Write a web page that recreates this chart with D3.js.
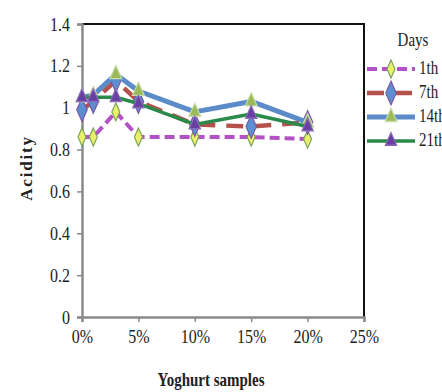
<!DOCTYPE html>
<html>
<head>
<meta charset="utf-8">
<script src="https://cdn.jsdelivr.net/npm/d3@7"></script>
<style>
  body { margin: 0; background: #fff; }
  text { font-family: "Liberation Serif", "Times New Roman", serif; fill: #222; }
</style>
</head>
<body>
<div id="chart"></div>
<script>
    // Yoghurt sample concentration (%) and acidity per storage day
    const samples = [0, 1, 3, 5, 10, 15, 20];
    const day1 = [0.86, 0.86, 0.98, 0.86, 0.86, 0.86, 0.85];
    const day7 = [0.99, 1.03, 1.13, 1.03, 0.92, 0.91, 0.93];
    const day14 = [1.05, 1.06, 1.16, 1.08, 0.98, 1.03, 0.93];
    const day21 = [1.05, 1.05, 1.05, 1.02, 0.92, 0.97, 0.91];
    const seriesNames = ["1th", "7th", "14th", "21th"];
    const xTicks = [0, 5, 10, 15, 20, 25];
    const yTicks = [0, 0.2, 0.4, 0.6, 0.8, 1, 1.2, 1.4];

    const W = 442, H = 392;
    const margin = { top: 24, right: 78, bottom: 75, left: 82 };
    const width = W - margin.left - margin.right;
    const height = H - margin.top - margin.bottom;

    const svg = d3.select("#chart")
      .append("svg")
        .attr("width", W)
        .attr("height", H);

    const g = svg.append("g")
        .attr("transform", `translate(${margin.left},${margin.top})`);

    const x = d3.scaleLinear().domain([0, 25]).range([0, width]);
    const y = d3.scaleLinear().domain([0, 1.4]).range([height, 0]);

    // top and right frame
    g.append("path")
      .attr("d", `M0,0H${width}V${height}`)
      .attr("fill", "none")
      .attr("stroke", "#111")
      .attr("stroke-width", 2);

    // Y axis
    const yAxis = g.append("g")
      .call(d3.axisLeft(y).tickValues(yTicks).tickSize(5).tickPadding(7).tickFormat(d => d3.format("")(+d.toFixed(1))));
    // X axis
    const xAxis = g.append("g")
      .attr("transform", `translate(0,${height})`)
      .call(d3.axisBottom(x).tickValues(xTicks).tickSize(5).tickPadding(6).tickFormat(d => d + "%"));

    [yAxis, xAxis].forEach(ax => {
      ax.select(".domain").attr("stroke", "#8a8a8a").attr("stroke-width", 2.5);
      ax.selectAll(".tick line").attr("stroke", "#8a8a8a").attr("stroke-width", 1.5);
      ax.selectAll(".tick text")
        .style("font-family", "'Liberation Serif', serif")
        .style("font-size", "16px")
        .attr("fill", "#222");
    });
    // text in the source is a little tall and narrow
    yAxis.selectAll(".tick text").attr("transform", "scale(1,1.18)");
    xAxis.selectAll(".tick text").attr("y", 10).attr("transform", "scale(1,1.2)");

    const series = [
      { name: seriesNames[0], values: day1, color: "#b352c6", width: 4, dash: "10,5", marker: "diamond", mSize: 55, mFill: "#e9f06a", mStroke: "#7aa05a" },
      { name: seriesNames[1], values: day7, color: "#b5514b", width: 4.5, dash: "17,11", marker: "diamond", mSize: 95, mFill: "#5b8fd0", mStroke: "#7a55a8" },
      { name: seriesNames[2], values: day14, color: "#5b8bc8", width: 5, dash: null, marker: "triangle", mSize: 60, mFill: "#9bbb59", mStroke: "#c8dca8" },
      { name: seriesNames[3], values: day21, color: "#2a8a4c", width: 3.5, dash: null, marker: "triangle", mSize: 55, mFill: "#6a3fa2", mStroke: "#8a6ab8" }
    ];

    const line = d3.line()
      .x((d, i) => x(samples[i]))
      .y(d => y(d));

    const symbolType = m => m === "diamond" ? d3.symbolDiamond : d3.symbolTriangle;

    series.forEach(s => {
      g.append("path")
        .datum(s.values)
        .attr("fill", "none")
        .attr("stroke", s.color)
        .attr("stroke-width", s.width)
        .attr("stroke-dasharray", s.dash)
        .attr("stroke-linejoin", "round")
        .attr("d", line);

      g.selectAll(null)
        .data(s.values)
        .enter()
        .append("path")
          .attr("transform", (d, i) => `translate(${x(samples[i])},${y(d)}) scale(1,1.3)`)
          .attr("d", d3.symbol().type(symbolType(s.marker)).size(s.mSize))
          .attr("fill", s.mFill)
          .attr("stroke", s.mStroke)
          .attr("stroke-width", 1.1);
    });

    // Axis titles
    svg.append("text")
      .attr("x", margin.left + width / 2 - 12)
      .attr("y", 386)
      .attr("text-anchor", "middle")
      .style("font-size", "15px")
      .style("font-weight", "bold")
      .attr("transform", "translate(0,-77.2) scale(1,1.2)")
      .text("Yoghurt samples");

    svg.append("text")
      .attr("transform", "translate(32,168) rotate(-90)")
      .attr("text-anchor", "middle")
      .style("font-size", "17px")
      .style("font-weight", "bold")
      .style("letter-spacing", "1.8px")
      .text("Acidity");

    // Legend
    const legend = svg.append("g");
    legend.append("text")
      .attr("x", 413)
      .attr("y", 46)
      .attr("text-anchor", "middle")
      .attr("transform", "translate(0,-9.2) scale(1,1.2)")
      .style("font-size", "15px")
      .text("Days");

    const rowY = d3.scalePoint().domain(seriesNames).range([69, 141]);
    series.forEach(s => {
      const ly = rowY(s.name);
      legend.append("line")
        .attr("x1", 367).attr("x2", 415)
        .attr("y1", ly).attr("y2", ly)
        .attr("stroke", s.color)
        .attr("stroke-width", s.width)
        .attr("stroke-dasharray", s.dash);
      legend.append("path")
        .attr("transform", `translate(391,${ly}) scale(1,1.3)`)
        .attr("d", d3.symbol().type(symbolType(s.marker)).size(s.mSize))
        .attr("fill", s.mFill)
        .attr("stroke", s.mStroke)
        .attr("stroke-width", 1.1);
      legend.append("text")
        .attr("x", 419)
        .attr("y", (ly + 5) / 1.2)
        .attr("transform", "scale(1,1.2)")
        .style("font-size", "15px")
        .text(s.name);
    });
</script>
</body>
</html>
